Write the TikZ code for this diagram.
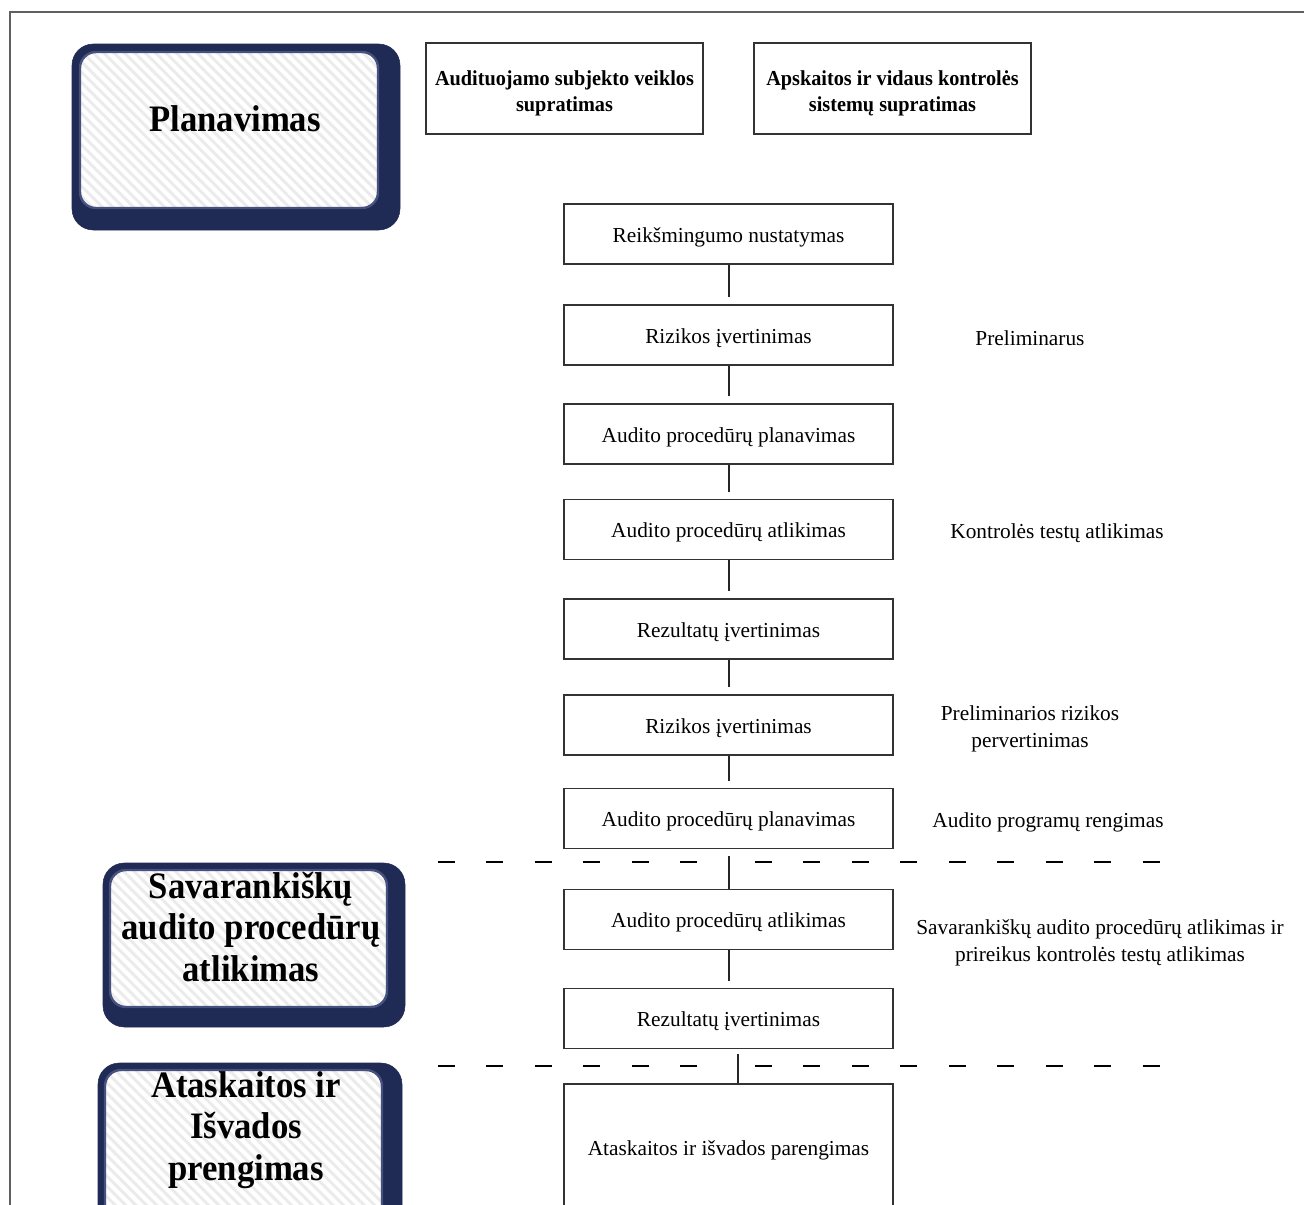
\documentclass[tikz,border=0pt]{standalone}
\usepackage{fontspec}
\setmainfont{Liberation Serif}
\newfontfamily\condserif[FakeStretch=0.95]{Liberation Serif}
\newfontfamily\headserif[FakeStretch=0.93]{Liberation Serif}
\usetikzlibrary{patterns.meta}
\definecolor{navy}{HTML}{1F2A55}
\definecolor{navyhi}{HTML}{46517E}
\definecolor{frame}{HTML}{606060}
\tikzset{
  flowbox/.style={draw=black!80, line width=0.9pt, minimum width=246.75pt, minimum height=45pt, inner sep=0pt, text height=15pt, text depth=3pt, align=center, font=\fontsize{16}{20}\selectfont},
  topbox/.style={draw=black!80, line width=0.9pt, minimum width=207.75pt, minimum height=68.25pt, inner sep=0pt, align=center, font=\condserif\fontsize{16}{19.5}\selectfont\bfseries},
  sidelabel/.style={align=center, inner sep=0pt, font=\fontsize{16}{20.25}\selectfont},
  headtext/.style={align=center, inner sep=0pt, font=\headserif\fontsize{28}{31}\selectfont\bfseries},
  conn/.style={line width=1.5pt, black!85},
  sep/.style={line width=1.3pt, dash pattern=on 12.75pt off 23.6pt},
  outerbev/.style={fill=navy, draw=navy, rounded corners=16pt},
  innerfill/.style={fill=white, rounded corners=12pt},
  innerline/.style={draw=navyhi, line width=1.8pt, rounded corners=12pt},
  hatch/.style={pattern={Lines[angle=-45,distance=5.5pt,line width=2.2pt]}, pattern color=black!8, rounded corners=12pt}
}
\begin{document}
\begin{tikzpicture}[x=0.75pt,y=-0.75pt]
\useasboundingbox (0,0) rectangle (1304,1204);
\clip (0,0) rectangle (1304,1204);
\fill[white] (0,0) rectangle (1304,1204);
\draw[frame, line width=1.3pt] (10,12) rectangle (1330,1230);

% Planavimas
\path[outerbev] (72,44) rectangle (400,230);
\path[innerfill] (80,52) rectangle (378,208);
\path[hatch] (80,52) rectangle (378,208);
\path[innerline] (80,52) rectangle (378,208);
\node[headtext] (plan) at (235,119) {Planavimas};

% Savarankisku
\path[outerbev] (103,863) rectangle (405,1027);
\path[innerfill] (110,870) rectangle (387,1007);
\path[hatch] (110,870) rectangle (387,1007);
\path[innerline] (110,870) rectangle (387,1007);
\node[headtext] (sav) at (251,927) {Savarankiškų\\audito procedūrų\\atlikimas};

% Ataskaitos
\path[outerbev] (98,1063) rectangle (402,1260);
\path[innerfill] (105,1070) rectangle (382,1240);
\path[hatch] (105,1070) rectangle (382,1240);
\path[innerline] (105,1070) rectangle (382,1240);
\node[headtext] (atask) at (246,1130) {Ataskaitos ir\\Išvados\\prengimas};

% top boxes
\node[topbox] (t1) at (564.5,88.5) {\rule{0pt}{18pt}Audituojamo subjekto veiklos\\supratimas};
\node[topbox] (t2) at (892.5,88.5) {\rule{0pt}{18pt}Apskaitos ir vidaus kontrolės\\sistemų supratimas};

% flow boxes
\node[flowbox] (b1) at (728.5,234) {Reikšmingumo nustatymas};
\node[flowbox] (b2) at (728.5,335) {Rizikos įvertinimas};
\node[flowbox] (b3) at (728.5,434) {Audito procedūrų planavimas};
\node[flowbox] (b4) at (728.5,529.5) {Audito procedūrų atlikimas};
\node[flowbox] (b5) at (728.5,629) {Rezultatų įvertinimas};
\node[flowbox] (b6) at (728.5,725) {Rizikos įvertinimas};
\node[flowbox] (b7) at (728.5,818.5) {Audito procedūrų planavimas};
\node[flowbox] (b8) at (728.5,919.5) {Audito procedūrų atlikimas};
\node[flowbox] (b9) at (728.5,1018.5) {Rezultatų įvertinimas};
\node[flowbox, minimum height=94.5pt] (b10) at (728.5,1147) {Ataskaitos ir išvados parengimas};

% connectors
\draw[conn, shorten >=5.25pt] (b1.south) -- (b2.north);
\draw[conn, shorten >=5.25pt] (b2.south) -- (b3.north);
\draw[conn, shorten >=5.25pt] (b3.south) -- (b4.north);
\draw[conn, shorten >=5.25pt] (b4.south) -- (b5.north);
\draw[conn, shorten >=5.25pt] (b5.south) -- (b6.north);
\draw[conn, shorten >=5.25pt] (b6.south) -- (b7.north);
\draw[conn, shorten <=5.25pt] (b7.south) -- (b8.north);
\draw[conn, shorten >=5.25pt] (b8.south) -- (b9.north);
\draw[conn, shorten <=3.75pt] ([xshift=6.75pt]b9.south) -- ([xshift=6.75pt]b10.north);

% dashed separators
\draw[sep] (438,862) -- (700,862);
\draw[sep] (755,862) -- (1162,862);
\draw[sep] (438,1066) -- (700,1066);
\draw[sep] (755,1066) -- (1162,1066);

% side labels
\node[sidelabel] (l1) at (1030,338) {Preliminarus};
\node[sidelabel] (l2) at (1057,533) {Kontrolės testų atlikimas};
\node[sidelabel] (l3) at (1030,729) {Preliminarios rizikos\\pervertinimas};
\node[sidelabel] (l4) at (1048,822) {Audito programų rengimas};
\node[sidelabel] (l5) at (1100,943) {Savarankiškų audito procedūrų atlikimas ir\\prireikus kontrolės testų atlikimas};
\end{tikzpicture}
\end{document}
